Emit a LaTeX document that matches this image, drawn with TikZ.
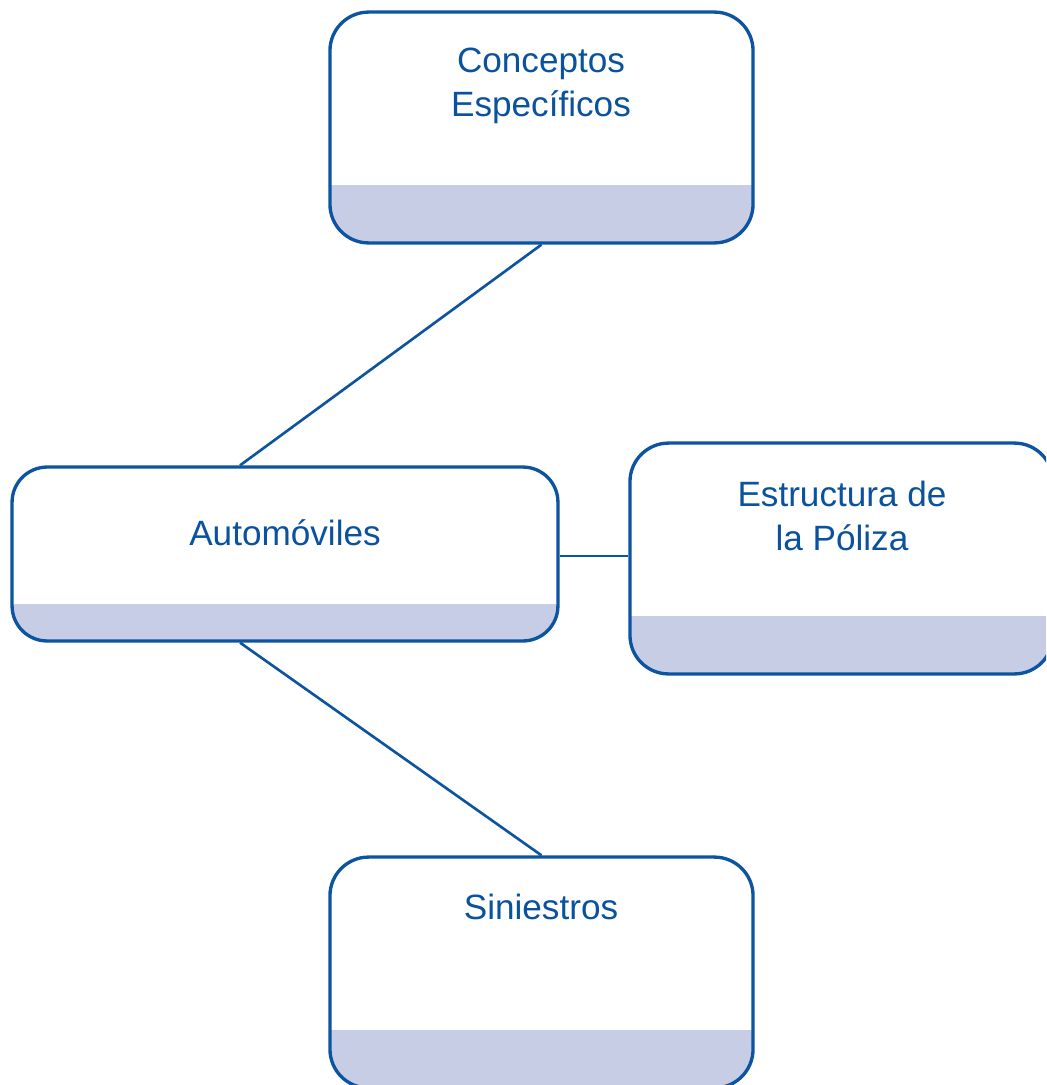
\documentclass[tikz,border=0pt]{standalone}
\usepackage{fontspec}
\setmainfont{Liberation Sans}
\definecolor{edgeblue}{RGB}{12,84,160}
\definecolor{textblue}{RGB}{10,82,158}
\definecolor{bandfill}{RGB}{200,205,230}
\begin{document}
\begin{tikzpicture}[x=0.02cm,y=-0.02cm,
  card/.style={draw=edgeblue, line width=1.9pt, rounded corners=22pt, fill=white, inner sep=0pt},
  band/.style={path picture={\fill[bandfill, sharp corners] ([yshift=#1]path picture bounding box.south west) rectangle (path picture bounding box.south east);}},
  lbl/.style={text=textblue, align=center, font=\fontsize{20}{25}\selectfont, inner sep=0pt},
  link/.style={draw=edgeblue, line width=1.5pt}]
\useasboundingbox (0,0) rectangle (1046,1085);
\clip (0,0) rectangle (1046,1085);
% boxes (centres in px)
\node[card, band=33pt, minimum width=240.8pt, minimum height=131.4pt] (conc) at (541.5,127.5) {};
\node[card, band=21pt, minimum width=310.7pt, minimum height=99pt, rounded corners=20pt] (auto) at (285,554) {};
\node[card, band=33pt, minimum width=240.8pt, minimum height=131.4pt] (estr) at (841.5,558.5) {};
\node[card, band=33pt, minimum width=240.8pt, minimum height=131.4pt] (sini) at (541.5,972.5) {};
% texts
\node[lbl] (t1) at (541,86) {Conceptos\\Específicos};
\node[lbl] (t2) at (285,533) {Automóviles};
\node[lbl] (t3) at (842,516) {Estructura de\\la Póliza};
\node[lbl] (t4) at (541,907) {Siniestros};
% connectors
\coordinate (autoN) at ([xshift=-45*0.569pt]auto.north);
\coordinate (autoS) at ([xshift=-45*0.569pt]auto.south);
\coordinate (autoE) at ([yshift=-2*0.569pt]auto.east);
\draw[link] (conc.south) -- (autoN);
\draw[link] (autoE) -- (autoE -| estr.west);
\draw[link] (autoS) -- (sini.north);
\end{tikzpicture}
\end{document}
